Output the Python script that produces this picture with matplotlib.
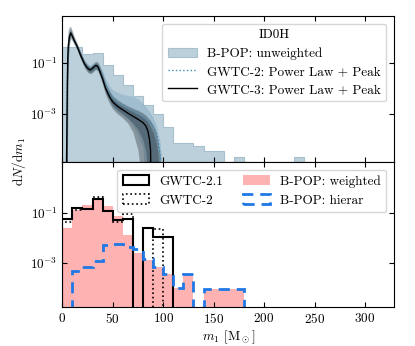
import numpy as np
import matplotlib
matplotlib.use("Agg")
import matplotlib.pyplot as plt

plt.rcParams.update({
    "font.family": "serif",
    "font.serif": ["cmr10"],
    "mathtext.fontset": "cm",
    "axes.formatter.use_mathtext": True,
    "font.size": 9.5,
    "xtick.direction": "in",
    "ytick.direction": "in",
    "xtick.top": True,
    "ytick.right": True,
    "axes.linewidth": 0.8,
})

# ---- top panel: B-POP unweighted histogram (log10 of dN/dm1, None = empty bin)
top_edges = np.arange(0, 250, 10)
bpop_unw = [-0.37, -0.37, -0.66, -0.61, -1.07, -1.48, -1.85, -2.30, -2.65, -3.00,
            -3.50, -4.14, -4.14, -4.24, -4.43, -4.43, None, -4.69, None, None,
            None, None, None, -4.69]

# ---- top panel: Power Law + Peak curves (log10 values)
m_grid = [3, 4, 5, 5.5, 6, 7, 8.3, 10, 12, 15, 18, 22, 25, 27.5, 30, 33, 35, 37, 40,
          43, 47, 50, 55, 60, 65, 70, 75, 80, 83, 85, 86.5, 87.5, 88, 90, 93, 95,
          97, 98.5, 100]
g3_med = [-6, -6, -2.0, -0.8, -0.35, 0.0, 0.18, 0.05, -0.13, -0.37, -0.68, -1.03,
          -1.2, -1.27, -1.2, -1.09, -1.12, -1.3, -1.62, -2.0, -2.33, -2.52, -2.7,
          -2.83, -2.96, -3.08, -3.2, -3.33, -3.47, -3.68, -4.0, -4.4, -6, -6, -6,
          -6, -6, -6, -6]
g3_lo90 = [-6, -6, -6, -2.0, -0.9, -0.3, -0.02, -0.12, -0.28, -0.5, -0.82, -1.18,
           -1.36, -1.42, -1.37, -1.25, -1.3, -1.5, -1.85, -2.25, -2.6, -2.8, -3.0,
           -3.15, -3.35, -3.7, -4.4, -6, -6, -6, -6, -6, -6, -6, -6, -6, -6, -6, -6]
g3_hi90 = [-6, -3.0, -0.3, 0.1, 0.3, 0.42, 0.44, 0.25, 0.02, -0.25, -0.55, -0.9,
           -1.06, -1.14, -1.06, -0.95, -0.97, -1.12, -1.42, -1.78, -2.1, -2.28,
           -2.45, -2.57, -2.68, -2.77, -2.85, -2.96, -3.05, -3.15, -3.2, -3.25,
           -3.3, -3.42, -3.7, -4.1, -4.6, -6, -6]
g3_lo50 = [-6, -6, -6, -1.6, -0.6, -0.15, 0.08, -0.04, -0.21, -0.44, -0.76, -1.11,
           -1.28, -1.35, -1.29, -1.17, -1.2, -1.4, -1.73, -2.12, -2.46, -2.66,
           -2.85, -2.99, -3.15, -3.35, -3.6, -4.0, -4.5, -6, -6, -6, -6, -6, -6,
           -6, -6, -6, -6]
g3_hi50 = [-6, -6, -1.0, -0.3, 0.0, 0.2, 0.3, 0.15, -0.05, -0.3, -0.6, -0.96,
           -1.12, -1.19, -1.12, -1.01, -1.04, -1.2, -1.52, -1.9, -2.22, -2.4, -2.58,
           -2.7, -2.8, -2.9, -3.0, -3.12, -3.22, -3.32, -3.42, -3.5, -3.56, -3.7,
           -4.1, -4.6, -6, -6, -6]
g2_med = [-6, -6, -1.5, -0.6, -0.3, 0.05, 0.15, 0.03, -0.15, -0.38, -0.68, -1.02,
          -1.18, -1.24, -1.17, -1.07, -1.09, -1.25, -1.55, -1.9, -2.2, -2.38, -2.55,
          -2.68, -2.8, -2.9, -3.0, -3.1, -3.18, -3.25, -3.3, -3.33, -3.35, -3.45,
          -3.7, -4.0, -4.6, -6, -6]
g2_lo = [-6, -6, -3.0, -1.5, -0.8, -0.25, -0.05, -0.15, -0.3, -0.5, -0.82, -1.15,
         -1.32, -1.4, -1.35, -1.25, -1.28, -1.45, -1.78, -2.15, -2.5, -2.7, -2.9,
         -3.05, -3.2, -3.45, -3.8, -4.3, -6, -6, -6, -6, -6, -6, -6, -6, -6, -6, -6]
g2_hi = [-6, -1.5, -0.4, 0.0, 0.2, 0.35, 0.35, 0.2, 0.0, -0.25, -0.55, -0.88,
         -1.02, -1.08, -1.0, -0.92, -0.93, -1.05, -1.3, -1.6, -1.9, -2.05, -2.15,
         -2.22, -2.27, -2.3, -2.4, -2.58, -2.72, -2.82, -2.9, -2.97, -3.0, -3.12,
         -3.4, -3.75, -4.1, -4.7, -6]

# ---- bottom panel histograms
bot_edges = np.arange(0, 190, 10)
gwtc21 = [-1.24, -0.82, -0.84, -0.45, -0.91, -1.27, -1.23, None, -1.6, -1.96,
          -1.96, None, None, None, None, None, None, None]
gwtc2 = [-1.38, -0.9, -0.84, -0.36, -0.91, -1.36, -1.04, None, None, -1.65,
         None, None, None, None, None, None, None, None]
bpop_w = [-1.6, -0.88, -0.7, -0.42, -0.72, -1.13, -1.87, -2.6, -2.87, -3.15,
          -3.43, -4.0, -3.43, None, -4.04, -4.04, -4.04, -4.04]
bpop_h = [None, -3.31, -3.16, -2.91, -2.27, -2.23, -2.36, -2.44, -2.83, -3.16,
          -3.43, -4.0, -3.43, None, -4.04, -4.04, -4.04, -4.04]


def lin(v):
    return np.array([0.0 if x is None else 10.0 ** x for x in v])


fig = plt.figure(figsize=(4.15, 3.46), dpi=100)
ax1 = fig.add_axes([0.150, 0.532, 0.800, 0.422])
ax2 = fig.add_axes([0.150, 0.112, 0.800, 0.420])

# top
tc = 0.5 * (top_edges[1:] + top_edges[:-1])
ax1.hist(tc, bins=top_edges, weights=lin(bpop_unw), histtype="stepfilled",
         color="#bcd0db", edgecolor="#a8bfcd", lw=0.8, log=True,
         label="B-POP: unweighted")
m = np.array(m_grid)
ax1.fill_between(m, lin(g2_lo), lin(g2_hi), color="#5d93b5", alpha=0.3, lw=0)
ax1.fill_between(m, lin(g3_lo90), lin(g3_hi90), color="k", alpha=0.28, lw=0)
ax1.fill_between(m, lin(g3_lo50), lin(g3_hi50), color="#1c3444", alpha=0.35, lw=0)
ax1.plot(m, lin(g2_med), ls=":", color="#3d8bb8", lw=1.0,
         label=r"GWTC-2: Power Law + Peak")
ax1.plot(m, lin(g3_med), color="k", lw=1.0,
         label=r"GWTC-3: Power Law + Peak")
ax1.set_yscale("log")
ax1.set_ylim(1.35e-5, 7)
ax1.set_xlim(0, 329)
ax1.set_yticks([1e-1, 1e-3])
ax1.set_yticks([], minor=True)
ax1.set_xticks([0, 50, 100, 150, 200, 250, 300])
ax1.tick_params(labelbottom=False)
ax1.legend(loc="upper right", title="ID0H", fontsize=9.5, title_fontsize=9.5,
           borderaxespad=0.6, handlelength=2.2, labelspacing=0.45)

# bottom
bc = 0.5 * (bot_edges[1:] + bot_edges[:-1])
ax2.hist(bc, bins=bot_edges, weights=lin(bpop_w), histtype="stepfilled",
         color="red", alpha=0.3, lw=0, log=True, label="B-POP: weighted")
ax2.hist(bc, bins=bot_edges, weights=lin(gwtc21), histtype="step",
         color="k", lw=1.5, log=True, label="GWTC-2.1")
ax2.hist(bc, bins=bot_edges, weights=lin(gwtc2), histtype="step",
         color="k", lw=1.2, ls=":", log=True, label="GWTC-2")
ax2.hist(bc, bins=bot_edges, weights=lin(bpop_h), histtype="step",
         color="#1f78e6", lw=2.0, ls=(0, (4, 2.5)), log=True, label="B-POP: hierar")
ax2.set_yscale("log")
ax2.set_ylim(1.7e-5, 11)
ax2.set_xlim(0, 329)
ax2.set_yticks([1e-1, 1e-3])
ax2.set_yticks([], minor=True)
ax2.set_xticks([0, 50, 100, 150, 200, 250, 300])
h, l = ax2.get_legend_handles_labels()
order = [1, 2, 0, 3]
ax2.legend([h[i] for i in order], [l[i] for i in order], loc="upper right",
           ncol=2, fontsize=9.5, borderaxespad=0.6, columnspacing=1.5,
           handlelength=2.0, handletextpad=0.8)
ax2.set_xlabel(r"$m_1$ [M$_\odot$]", labelpad=2)

fig.text(0.045, 0.533, r"$\mathrm{d}N/\mathrm{d}m_1$", rotation=90,
         ha="center", va="center", fontsize=9.5)

fig.savefig("out.png", dpi=100)
